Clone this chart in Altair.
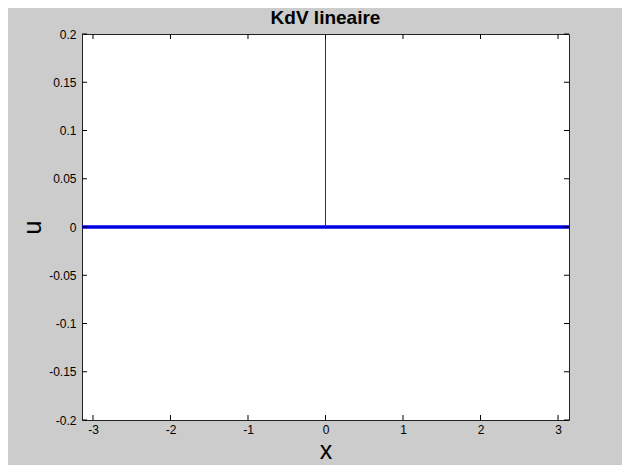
import altair as alt
import pandas as pd

# data
line_x = [-3.14159, 3.14159]
line_u = [0.0, 0.0]
spike_x = [0.0, 0.0]
spike_u = [0.0, 0.2]
x_ticks = [-3, -2, -1, 0, 1, 2, 3]
y_ticks = [-0.2, -0.15, -0.1, -0.05, 0, 0.05, 0.1, 0.15, 0.2]

W, H = 487, 386
FONT = "Liberation Sans"

xs = alt.Scale(domain=[-3.14159, 3.14159], nice=False, zero=False)
ys = alt.Scale(domain=[-0.2, 0.2], nice=False, zero=False)

line_df = pd.DataFrame({"x": line_x, "u": line_u})
spike_df = pd.DataFrame({"x": spike_x, "u": spike_u})
xt_df = pd.DataFrame({"x": x_ticks})
yt_df = pd.DataFrame({"u": y_ticks})

xaxis = alt.Axis(values=x_ticks, ticks=False, grid=False, domain=False,
                 labelExpr="'' + datum.value", labelPadding=4, labelFontSize=12,
                 labelFont=FONT, labelColor="#000000", title="x",
                 titleFont=FONT, titleFontSize=25, titleFontWeight="normal",
                 titleColor="#000000", titleY=38, titleBaseline="alphabetic")
yaxis = alt.Axis(values=y_ticks, ticks=False, grid=False, domain=False,
                 labelExpr="'' + datum.value", labelPadding=6, labelFontSize=12,
                 labelFont=FONT, labelColor="#000000", title="u",
                 titleFont=FONT, titleFontSize=25, titleFontWeight="normal",
                 titleColor="#000000", titleX=-50, titleY=H / 2, titleAngle=270,
                 titleAlign="center", titleBaseline="middle")

base_line = alt.Chart(line_df).mark_line(color="#0000e6", strokeWidth=3.5).encode(
    x=alt.X("x:Q", scale=xs, axis=xaxis),
    y=alt.Y("u:Q", scale=ys, axis=yaxis),
)
spike = alt.Chart(spike_df).mark_line(color="#2020c0", strokeWidth=1).encode(
    x=alt.X("x:Q", scale=xs),
    y=alt.Y("u:Q", scale=ys),
)

tick_color = "#000000"
tb = alt.Chart(xt_df).mark_rule(color=tick_color, strokeWidth=1).encode(
    x=alt.X("x:Q", scale=xs), y=alt.value(H), y2=alt.value(H - 5))
tt = alt.Chart(xt_df).mark_rule(color=tick_color, strokeWidth=1).encode(
    x=alt.X("x:Q", scale=xs), y=alt.value(0), y2=alt.value(5))
tl = alt.Chart(yt_df).mark_rule(color=tick_color, strokeWidth=1).encode(
    y=alt.Y("u:Q", scale=ys), x=alt.value(0), x2=alt.value(5))
tr = alt.Chart(yt_df).mark_rule(color=tick_color, strokeWidth=1).encode(
    y=alt.Y("u:Q", scale=ys), x=alt.value(W), x2=alt.value(W - 5))

chart = alt.layer(base_line, spike, tb, tt, tl, tr).properties(
    width=W, height=H,
    autosize=alt.AutoSizeParams(type="none"),
    padding={"left": 74, "top": 26, "right": 53, "bottom": 45},
    background="#cccccc",
    title=alt.TitleParams("KdV lineaire", font=FONT, fontSize=19,
                          fontWeight="bold", color="#000000", anchor="middle",
                          offset=0),
).configure_view(
    fill="#ffffff", stroke="#222222", strokeWidth=1
)

chart.save("out.html", embed_options={"renderer": "svg", "actions": False})
